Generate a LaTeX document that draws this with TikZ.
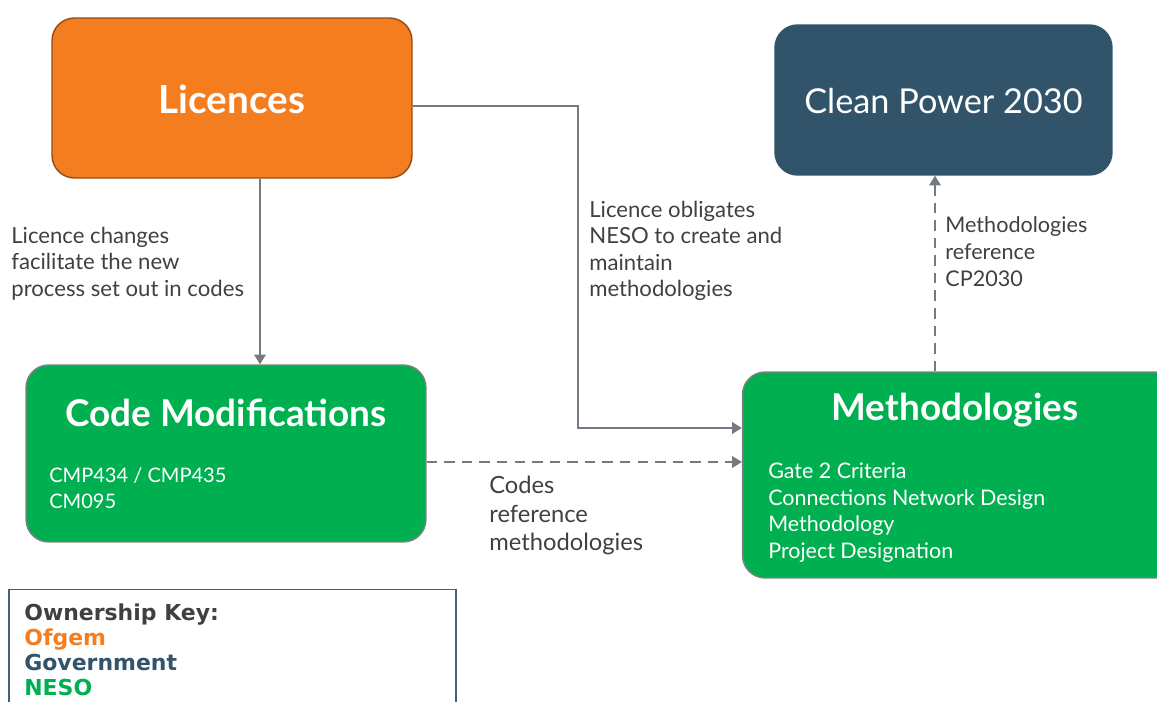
\documentclass[tikz,border=0pt]{standalone}
\usepackage{fontspec}
\setmainfont{Lato}
\newfontfamily\keyfont{DejaVu Sans}
\usetikzlibrary{positioning, arrows.meta}
\definecolor{ofgem}{HTML}{F47D20}
\definecolor{govt}{HTML}{31546B}
\definecolor{neso}{HTML}{00B050}
\definecolor{linkgray}{HTML}{737A82}
\definecolor{labelgray}{HTML}{404040}
\definecolor{keyframe}{HTML}{45617A}
\tikzset{
x=0.02cm, y=-0.02cm, % one unit is one pixel of the reference
box/.style={rounded corners=0.45cm, inner sep=0pt, line width=0.8pt}, % the coloured boxes
title/.style={text=white, font=\fontsize{21}{25}\selectfont\bfseries}, % big white headings
note/.style={anchor=north west, inner sep=0pt, align=left, text=labelgray, font=\fontsize{12.6}{14.9}\selectfont}, % grey labels by the arrows
inbox/.style={anchor=north west, inner sep=0pt, align=left, text=white, font=\fontsize{12.2}{15}\selectfont}, % lists inside the boxes
link/.style={draw=linkgray, line width=1.1pt, -{Triangle[length=5.5pt,width=6.5pt]}}, % connectors
}

\begin{document}
\begin{tikzpicture}
  \useasboundingbox (0,0) rectangle (1157,702);

  \node[box, fill=ofgem, draw=ofgem!60!black, minimum width=7.2cm, minimum height=3.2cm] (lic) at (232,98) {};
  \node[box, fill=govt, draw=govt, minimum width=6.74cm, minimum height=3.0cm] (cp) at (943.5,100) {};
  \node[box, fill=neso, draw=gray, minimum width=8.0cm, minimum height=3.54cm] (cm) at (226,453.5) {};
  \node[box, fill=neso, draw=gray, minimum width=8.7cm, minimum height=4.12cm] (meth) at (960,475) {};
  \node[draw=keyframe, line width=0.8pt, minimum width=8.94cm, minimum height=2.7cm, inner sep=0pt] (key) at (232.5,657) {};

  \node[title, font=\fontsize{22}{26}\selectfont\bfseries] (lictitle) at (232,99) {Licences};
  \node[title, font=\fontsize{19.5}{24}\selectfont] (cptitle) at (943.5,101) {Clean Power 2030};
  \node[title] (cmtitle) at (226,413) {Code Modifications};
  \node[title] (methtitle) at (955,410) {Methodologies};

  \node[inbox, font=\fontsize{11.4}{15.2}\selectfont] (cmlist) at (49,467) {CMP434 / CMP435\\CM095};
  \node[inbox] (methlist) at (768,463) {Gate 2 Criteria\\Connections Network Design\\Methodology\\Project Designation};

  \node[note] (n1) at (11,227) {Licence changes\\facilitate the new\\process set out in codes};
  \node[note] (n2) at (589,201) {Licence obligates\\NESO to create and\\maintain\\methodologies};
  \node[note, font=\fontsize{12.3}{15.3}\selectfont] (n3) at (945,216) {Methodologies\\reference\\CP2030};
  \node[note, font=\fontsize{13.5}{16.2}\selectfont] (n4) at (489,476) {Codes\\reference\\methodologies};

  \node[anchor=north west, inner sep=0pt, align=left, font=\keyfont\bfseries\fontsize{12.5}{14.4}\selectfont] (keytext) at (24,603)
    {\textcolor{labelgray}{Ownership Key:}\\\textcolor{ofgem}{Ofgem}\\\textcolor{govt}{Government}\\\textcolor{neso}{NESO}};

  \coordinate (elbow) at (578,106);
  \draw[link] (lic.east |- elbow) -- (elbow) |- (meth.west |- 0,428);
  \draw[link] (lic.south -| 260,0) -- (cm.north -| 260,0);
  \draw[link, dashed, dash pattern=on 6pt off 4pt] (cm.east |- 0,462) -- (meth.west |- 0,462);
  \draw[link, dashed, dash pattern=on 6pt off 4pt] (meth.north -| 935,0) -- (cp.south -| 935,0);
\end{tikzpicture}
\end{document}
